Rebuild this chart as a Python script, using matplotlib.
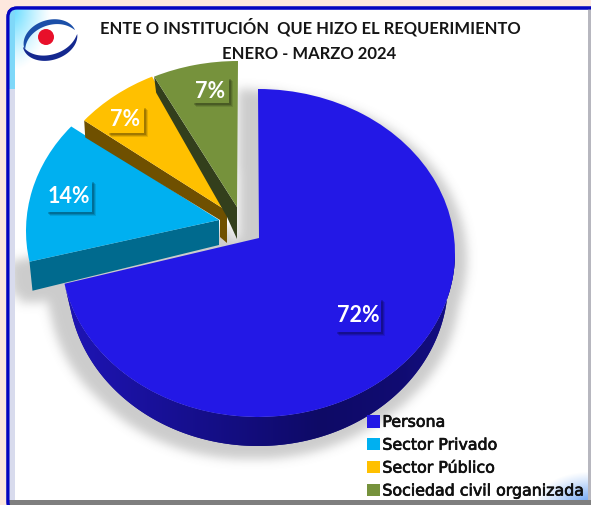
import numpy as np
import matplotlib
matplotlib.use("Agg")
import matplotlib.pyplot as plt
import matplotlib.patheffects as pe
from matplotlib.patches import Patch, Polygon, Rectangle, FancyBboxPatch
from matplotlib.path import Path

categories = ["Persona", "Sector Privado", "Sector Público", "Sociedad civil organizada"]
values = [72, 14, 7, 7]
title_lines = ["ENTE O INSTITUCIÓN  QUE HIZO EL REQUERIMIENTO", "ENERO - MARZO 2024"]
colors = ["#2318E6", "#00B0F0", "#FFC000", "#76923C"]
side_colors = ["#14108A", "#006A8E", "#6F5000", "#333F1C"]

W, H = 591, 506
RX, RY = 197.0, 164.0
K = RX / RY
FONT = "Lato"


def Y(py):
    return (H - py) * K


def xy(px, py):
    return (px, Y(py))


fig = plt.figure(figsize=(W / 100, H / 100), dpi=100, facecolor="#FDE8DE")
ax = fig.add_axes([0, 0, 1, 1])
ax.set_axis_off()

# slices
wedges, _ = ax.pie(values, colors=colors, startangle=90, counterclock=False, radius=RX)
centers = [(258, 254), (223, 232), (236, 226), (238, 226)]
apexes = [(259, 239), (219, 221), (227, 212), (237, 208)]
angles = 90 - np.cumsum([0] + values) / sum(values) * 360.0

for w, c, a in zip(wedges, centers, apexes):
    w.set_center(xy(*c))
    p = w.get_path()
    v = p.vertices.copy()
    d = np.hypot(v[:, 0] - c[0], v[:, 1] - Y(c[1]))
    v[d < 1e-6] = xy(*a)
    w._path = Path(v, p.codes)
    w.set_edgecolor("none")
    w.set_linewidth(0)


def rim(i, ang):
    c = centers[i]
    t = np.deg2rad(ang)
    return np.array([c[0] + RX * np.cos(t), c[1] - RY * np.sin(t)])


def poly(points):
    return [xy(px, py) for px, py in points]


ax.set_aspect("auto")
ax.set_xlim(0, W)
ax.set_ylim(0, Y(0))
ext = (0, W, 0, Y(0))

# panel
panel = FancyBboxPatch((8, Y(512)), W + 10, Y(9) - Y(512),
                       boxstyle="round,pad=0,rounding_size=9", mutation_aspect=K,
                       fc="white", ec="#0505C0", lw=2.2, zorder=1)
ax.add_patch(panel)

yy, xx = np.mgrid[0:H, 0:W]
grad = np.ones((H, W, 4))
r1 = np.hypot((xx - 9) / 1.0, (yy - 9) / 1.5)
a1 = np.clip(1 - r1 / 42, 0, 1) ** 1.2
r2 = np.hypot(xx - 591, (yy - 506) * 1.7)
a2 = np.clip(1 - r2 / 58, 0, 1) ** 1.1
grad[..., :3] = np.array([0.33, 0.85, 1.0])
mix = a2 / np.maximum(a1 + a2, 1e-6)
for ch, cv in enumerate((0.36, 0.6, 0.95)):
    grad[..., ch] = grad[..., ch] * (1 - mix) + cv * mix
grad[..., 3] = np.maximum(a1, a2)
left = xx < 15
grad[left, :3] = (0.85, 0.86, 0.93)
grad[left, 3] = 1
left_top = left & (yy < 90)
grad[left_top, :3] = (0.5, 0.85, 0.98)
bottom = yy >= 501
grad[bottom, :3] = (0.5, 0.5, 0.5)
grad[bottom, 3] = 1
rightb = xx >= 588
grad[rightb & ~bottom, :3] = (0.72, 0.72, 0.75)
grad[rightb & ~bottom, 3] = 1
im = ax.imshow(grad, extent=ext, origin="upper", aspect="auto", zorder=1.1, interpolation="bilinear")
im.set_clip_path(panel)
panel2 = FancyBboxPatch((8, Y(512)), W + 10, Y(9) - Y(512),
                        boxstyle="round,pad=0,rounding_size=9", mutation_aspect=K,
                        fc="none", ec="#0505C0", lw=2.2, zorder=1.2)
ax.add_patch(panel2)

# 3D side of the main slice: a lower, slightly narrower ellipse
start = angles[1] + 360
t = np.deg2rad(np.linspace(start, 360, 220))
c0 = centers[0]
LOW_CY, LOW_RX = 283, 190.0
rimx = c0[0] + RX * np.cos(t)
rimy = c0[1] - RY * np.sin(t)
lowx = c0[0] + LOW_RX * np.cos(t)
lowy = LOW_CY - RY * np.sin(t)
side_pts = list(zip(rimx, rimy)) + list(zip(lowx[::-1], lowy[::-1]))
main_side = Polygon(poly(side_pts), closed=True, fc=side_colors[0], ec="none", zorder=6)
ax.add_patch(main_side)
g = np.interp(np.arange(W), [60, 200, 320, 400, 460], [0.0, 0.55, 1.0, 0.85, 0.6])[None, :, None]
c_l = np.array([0.12, 0.08, 0.72])
c_d = np.array([0.055, 0.04, 0.40])
side_img = (c_l * (1 - g) + c_d * g)
im2 = ax.imshow(side_img, extent=ext, origin="upper", aspect="auto", zorder=6.1)
im2.set_clip_path(main_side)

a_c = np.array(apexes[1], float)
cy_rim = rim(1, angles[1] + 360)
cyan_side = [cy_rim, a_c, a_c + (0, 25), cy_rim + (3, 29)]
ax.add_patch(Polygon(poly(cyan_side), closed=True, fc=side_colors[1], ec="none", zorder=3))
wedges[1].set_zorder(3.1)

a_y = np.array(apexes[2], float)
y_rim = rim(2, angles[2] + 360)
yellow_side = [y_rim, a_y, a_y + (0, 32), a_y + (-7, 26), a_y + (-7, 9), y_rim + (1, 17)]
ax.add_patch(Polygon(poly(yellow_side), closed=True, fc=side_colors[2], ec="none", zorder=3.2))
wedges[2].set_zorder(3.3)

a_g = np.array(apexes[3], float)
g_rim = rim(3, angles[3] + 360)
green_side = [g_rim, a_g, a_g + (0, 32), a_g + (-10, 10), g_rim + (2, 16)]
ax.add_patch(Polygon(poly(green_side), closed=True, fc=side_colors[3], ec="none", zorder=3.4))
wedges[3].set_zorder(3.5)
wedges[0].set_zorder(7)

# soft shadow under the pie
grid = np.column_stack([xx.ravel() + 0.5, Y(yy.ravel() + 0.5)])
mask = wedges[0].get_path().contains_points(grid).reshape(H, W)
mask |= Path(poly(side_pts)).contains_points(grid).reshape(H, W)
mask |= Path(poly(cyan_side)).contains_points(grid).reshape(H, W)
m = mask.astype(float)
sh = np.zeros_like(m)
for dy, dx in ((6, -20), (6, 12), (13, 0), (13, -12), (0, -20)):
    sh = np.maximum(sh, np.roll(np.roll(m, dy, axis=0), dx, axis=1))
kx = np.exp(-0.5 * (np.arange(-15, 16) / 5.0) ** 2)
kx /= kx.sum()
sh = np.apply_along_axis(lambda r: np.convolve(r, kx, mode="same"), 0, sh)
sh = np.apply_along_axis(lambda r: np.convolve(r, kx, mode="same"), 1, sh)
sh[xx < 15] = 0
shadow = np.zeros((H, W, 4))
shadow[..., :3] = 0.45
shadow[..., 3] = sh * 0.36
ax.imshow(shadow, extent=ext, origin="upper", aspect="auto", zorder=2)

# data labels
label_pos = [(358, 316), (69, 197), (125, 120), (210, 91)]
label_size = [(46, 34), (46, 32), (37, 27), (37, 26)]
for val, pos, size, col in zip(values, label_pos, label_size, colors):
    x0, y0 = pos[0] - size[0] / 2, pos[1] - size[1] / 2
    for off, al in ((4, 0.10), (3, 0.14), (2, 0.18)):
        ax.add_patch(Rectangle((x0 + off, Y(y0 + size[1] + off)), size[0], size[1] * K,
                               fc="black", ec="none", alpha=al, zorder=8))
    ax.add_patch(Rectangle((x0, Y(y0 + size[1])), size[0], size[1] * K, fc=col, ec="none", zorder=8.1))
    ax.text(pos[0], Y(pos[1]), f"{val}%", color="white", fontsize=15.5, fontweight="bold",
            family=FONT, ha="center", va="center", zorder=9)

# titles
ax.text(310, Y(27), title_lines[0], fontsize=11.9, fontweight="bold", family=FONT,
        color="#151515", ha="center", va="center", zorder=9)
ax.text(309, Y(54), title_lines[1], fontsize=12.0, fontweight="bold", family=FONT,
        color="#151515", ha="center", va="center", zorder=9)


# logo
def crescent(cx, cy, rx, ry, rot, t0, t1, thick, color):
    tt = np.deg2rad(np.linspace(t0, t1, 60))
    s = np.sin(np.linspace(0, np.pi, 60)) ** 0.8
    ro = np.deg2rad(rot)

    def pts(f):
        x = rx * f * np.cos(tt)
        y = ry * f * np.sin(tt)
        return cx + x * np.cos(ro) - y * np.sin(ro), cy - (x * np.sin(ro) + y * np.cos(ro))

    xo, yo = pts(1.0)
    xi, yi = pts(1 - thick * s)
    ax.add_patch(Polygon(poly(list(zip(xo, yo)) + list(zip(xi[::-1], yi[::-1]))), closed=True,
                         fc=color, ec="none", zorder=9))


crescent(50, 41, 27, 20, 18, 5, 185, 0.27, "#1B4FA8")
crescent(50, 41, 28, 20, 18, 175, 352, 0.27, "#14288F")
ax.add_patch(FancyBboxPatch((46, Y(38)), 0, 0, boxstyle="circle,pad=8", mutation_aspect=K,
                            fc="#E8102A", ec="none", zorder=9.5))

# legend
handles = [Patch(fc=c, ec="none") for c in colors]
leg = ax.legend(handles, categories, loc="lower left", bbox_to_anchor=(367, Y(499.5)),
                bbox_transform=ax.transData, frameon=False, labelspacing=0.5,
                handlelength=0.85, handleheight=0.85, handletextpad=0.12, borderpad=0, borderaxespad=0,
                prop={"family": "DejaVu Sans", "size": 11.4})
leg.set_zorder(10)
for t_ in leg.get_texts():
    t_.set_color("#101010")
    t_.set_path_effects([pe.withStroke(linewidth=0.5, foreground="#101010")])

fig.savefig("out.png", dpi=100, facecolor=fig.get_facecolor())
